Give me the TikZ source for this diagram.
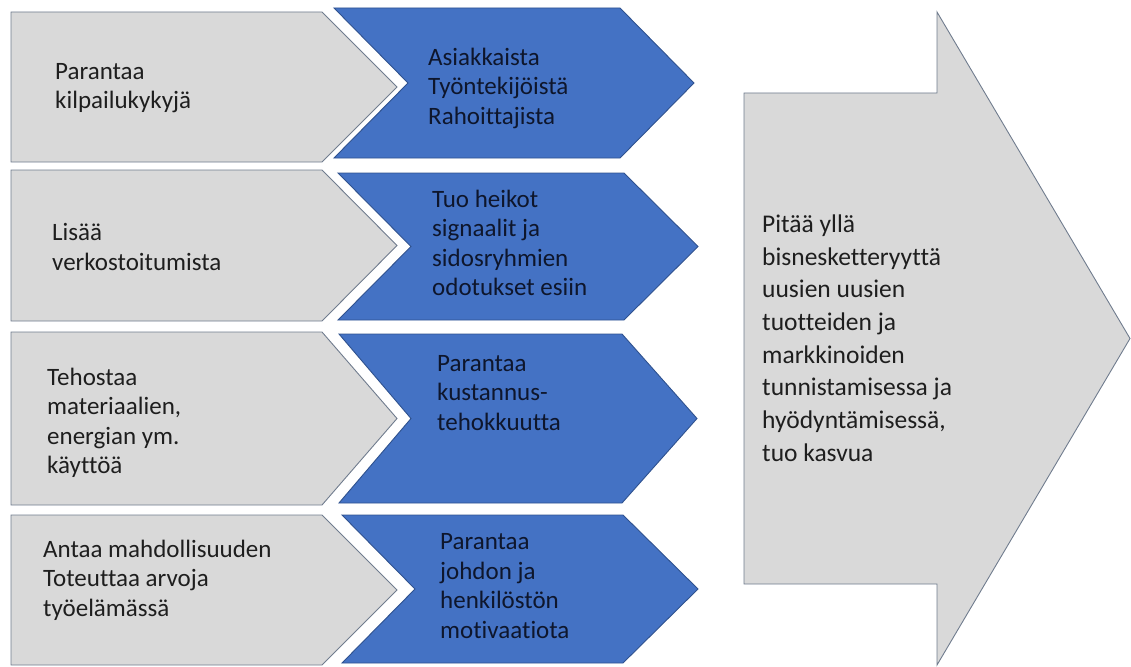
\documentclass[tikz,border=0pt]{standalone}
\usepackage{fontspec}
\setmainfont{Carlito}[Ligatures=NoCommon]
\definecolor{chevgray}{RGB}{217,217,217}
\definecolor{chevline}{RGB}{112,124,142}
\definecolor{chevblue}{RGB}{68,114,196}
\definecolor{blueline}{RGB}{47,82,143}
\definecolor{darktext}{RGB}{30,30,30}
\definecolor{navytext}{RGB}{14,22,44}
\tikzset{
  graychev/.style={fill=chevgray, draw=chevline, line width=0.9pt},
  bluechev/.style={fill=chevblue, draw=blueline, line width=0.9pt},
  chevtext/.style={anchor=west, align=left, inner sep=0pt, text=darktext,
    font=\fontsize{25}{29.5}\selectfont},
  bluetext/.style={chevtext, text=navytext},
}
\begin{document}
\begin{tikzpicture}[x=1pt, y=-1pt]
  \useasboundingbox (0,0) rectangle (1131,666);

  % Big arrow on the right
  \draw[graychev] (744,93) -- (937,93) -- (937,12) -- (1130,338.5)
    -- (937,665) -- (937,584) -- (744,584) -- cycle;
  \node[chevtext, font=\fontsize{25.5}{32.7}\selectfont] (growth) at (762,338)
    {Pitää yllä\\bisnesketteryyttä\\uusien uusien\\tuotteiden ja\\markkinoiden\\tunnistamisessa ja\\hyödyntämisessä,\\tuo kasvua};

  % Gray chevrons
  \draw[graychev] (11,12) -- (322,12) -- (397,87) -- (322,162) -- (11,162) -- cycle;
  \draw[graychev] (11,170) -- (322,170) -- (397,245.5) -- (322,321) -- (11,321) -- cycle;
  \draw[graychev] (11,332) -- (322,332) -- (397,418.5) -- (322,505) -- (11,505) -- cycle;
  \draw[graychev] (11,515) -- (322,515) -- (397,590) -- (322,665) -- (11,665) -- cycle;

  % Blue chevrons
  \draw[bluechev] (334,8) -- (620,8) -- (694,83) -- (620,158) -- (334,158) -- (408,83) -- cycle;
  \draw[bluechev] (338,173) -- (624,173) -- (698,246.5) -- (624,320) -- (338,320) -- (411,246.5) -- cycle;
  \draw[bluechev] (339,334) -- (622,334) -- (697,418.5) -- (622,503) -- (339,503) -- (411,418.5) -- cycle;
  \draw[bluechev] (342,515) -- (623,515) -- (698,589) -- (623,663) -- (342,663) -- (415,589) -- cycle;

  % Left texts
  \node[chevtext] (compete) at (55,88) {Parantaa\\kilpailukykyjä};
  \node[chevtext] (network) at (52,247) {Lisää\\verkostoitumista};
  \node[chevtext] (material) at (47,423) {Tehostaa\\materiaalien,\\energian ym.\\käyttöä};
  \node[chevtext] (values) at (43,580) {Antaa mahdollisuuden\\Toteuttaa arvoja\\työelämässä};

  % Blue texts
  \node[bluetext] (customers) at (428,88) {Asiakkaista\\Työntekijöistä\\Rahoittajista};
  \node[bluetext] (signals) at (432,243) {Tuo heikot\\signaalit ja\\sidosryhmien\\odotukset esiin};
  \node[bluetext] (cost) at (437,393) {Parantaa\\kustannus-\\tehokkuutta};
  \node[bluetext] (motivation) at (440,586) {Parantaa\\johdon ja\\henkilöstön\\motivaatiota};
\end{tikzpicture}
\end{document}
